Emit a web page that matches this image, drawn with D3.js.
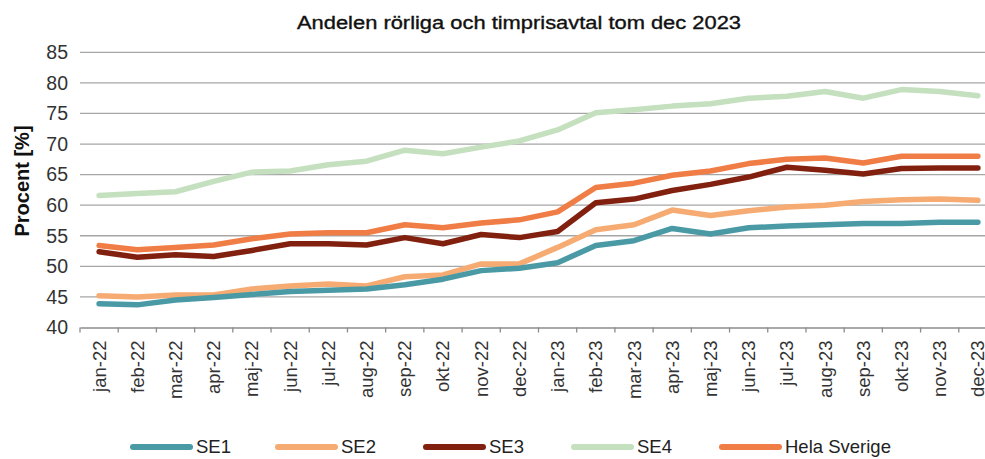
<!DOCTYPE html>
<html>
<head>
<meta charset="utf-8">
<script src="https://cdn.jsdelivr.net/npm/d3@7"></script>
<style>
  body { margin: 0; background: #fff; }
  svg { display: block; font-family: "Liberation Sans", Arial, sans-serif; }
</style>
</head>
<body>
<svg width="985" height="459"></svg>
<script>
// månader
var months = ["jan-22","feb-22","mar-22","apr-22","maj-22","jun-22","jul-22","aug-22","sep-22","okt-22","nov-22","dec-22",
              "jan-23","feb-23","mar-23","apr-23","maj-23","jun-23","jul-23","aug-23","sep-23","okt-23","nov-23","dec-23"];

var se1 = [43.9,43.7,44.5,44.9,45.4,45.9,46.1,46.3,47.0,47.9,49.3,49.7,50.6,53.4,54.2,56.2,55.3,56.3,56.6,56.8,57.0,57.0,57.2,57.2];
var se2 = [45.2,45.0,45.3,45.3,46.3,46.8,47.1,46.8,48.3,48.6,50.4,50.4,53.1,56.0,56.8,59.2,58.3,59.1,59.7,60.0,60.6,60.9,61.0,60.8];
var se3 = [52.4,51.5,51.9,51.6,52.6,53.7,53.7,53.5,54.7,53.7,55.2,54.7,55.7,60.4,61.0,62.4,63.4,64.6,66.2,65.7,65.1,66.0,66.1,66.1];
var se4 = [61.6,61.9,62.2,63.9,65.4,65.6,66.6,67.2,69.0,68.4,69.5,70.5,72.3,75.1,75.6,76.2,76.6,77.5,77.8,78.6,77.5,78.9,78.6,77.9];
var hela = [53.4,52.7,53.1,53.5,54.5,55.3,55.5,55.5,56.8,56.3,57.1,57.6,58.9,62.9,63.6,64.9,65.6,66.8,67.5,67.7,66.9,68.0,68.0,68.0];

var yTicks = [40,45,50,55,60,65,70,75,80,85];

var series = [
    { name: "SE1", values: se1, color: "#4a9aa6" },
    { name: "SE2", values: se2, color: "#f6ab72" },
    { name: "SE3", values: se3, color: "#82200f" },
    { name: "SE4", values: se4, color: "#c4e0bf" },
    { name: "Hela Sverige", values: hela, color: "#ef7d45" }
];
// ritordning: SE4 längst bak
var drawOrder = ["SE4", "SE2", "SE1", "SE3", "Hela Sverige"];

var svg = d3.select("svg");

var x = d3.scaleBand()
    .domain(months)
    .range([80, 997]);

var y = d3.scaleLinear()
    .domain([40, 85])
    .range([327.5, 52.3]);

// rubrik
svg.append("text")
    .attr("x", 519)
    .attr("y", 29)
    .attr("text-anchor", "middle")
    .attr("font-size", 17.5)
    .attr("fill", "#111")
    .attr("stroke", "#111")
    .attr("stroke-width", 0.35)
    .attr("textLength", 444)
    .attr("lengthAdjust", "spacingAndGlyphs")
    .text("Andelen rörliga och timprisavtal tom dec 2023");

// stödlinjer
svg.append("g")
    .selectAll("line")
    .data(yTicks.slice(1))
    .enter().append("line")
    .attr("x1", 80)
    .attr("x2", 997)
    .attr("y1", d => y(d))
    .attr("y2", d => y(d))
    .attr("stroke", "#a6a6a6")
    .attr("stroke-width", 1.3);

// y-axel
var yAxis = svg.append("g")
    .attr("transform", "translate(80,0)")
    .call(d3.axisLeft(y).tickValues(yTicks).tickSize(0).tickPadding(12));
yAxis.select(".domain").remove();
yAxis.selectAll("text")
    .attr("font-size", 19.5)
    .attr("fill", "#333")
    .attr("font-family", "Liberation Sans, Arial, sans-serif");

// x-axel
var xAxis = svg.append("g")
    .attr("transform", "translate(0," + y(40) + ")")
    .call(d3.axisBottom(x).tickSize(0).tickPadding(0));
xAxis.select(".domain")
    .attr("stroke", "#8c8c8c")
    .attr("stroke-width", 1.3);
xAxis.selectAll(".tick text")
    .attr("font-size", 18.5)
    .attr("fill", "#333")
    .attr("font-family", "Liberation Sans, Arial, sans-serif")
    .attr("text-anchor", "end")
    .attr("transform", "translate(0,13) rotate(-90)")
    .attr("dy", "0.35em")
    .attr("y", 0)
    .attr("x", 0);

// tickmarker mellan kategorierna
xAxis.selectAll(".sep")
    .data(months)
    .enter().append("line")
    .attr("class", "sep")
    .attr("x1", d => x(d))
    .attr("x2", d => x(d))
    .attr("y1", 0)
    .attr("y2", 5)
    .attr("stroke", "#8c8c8c")
    .attr("stroke-width", 1.3);

// linjer
var line = d3.line()
    .x((d, i) => x(months[i]) + x.bandwidth() / 2)
    .y(d => y(d));

svg.append("g")
    .selectAll("path")
    .data(drawOrder.map(n => series.find(s => s.name === n)))
    .enter().append("path")
    .attr("d", d => line(d.values))
    .attr("fill", "none")
    .attr("stroke", d => d.color)
    .attr("stroke-width", 5.5)
    .attr("stroke-linecap", "round")
    .attr("stroke-linejoin", "round");

// y-axelns titel
svg.append("text")
    .attr("transform", "translate(29,181) rotate(-90)")
    .attr("text-anchor", "middle")
    .attr("font-size", 20)
    .attr("font-weight", "bold")
    .attr("fill", "#111")
    .text("Procent [%]");

// teckenförklaring
var legendX = [133, 278, 426, 574, 722];
var legend = svg.append("g")
    .selectAll("g")
    .data(series)
    .enter().append("g")
    .attr("transform", (d, i) => "translate(" + legendX[i] + ",447)");

legend.append("line")
    .attr("x1", 0)
    .attr("x2", 57)
    .attr("stroke", d => d.color)
    .attr("stroke-width", 6)
    .attr("stroke-linecap", "round");

legend.append("text")
    .attr("x", 63)
    .attr("dy", "0.35em")
    .attr("font-size", 18.5)
    .attr("fill", "#222")
    .text(d => d.name);
</script>
</body>
</html>
